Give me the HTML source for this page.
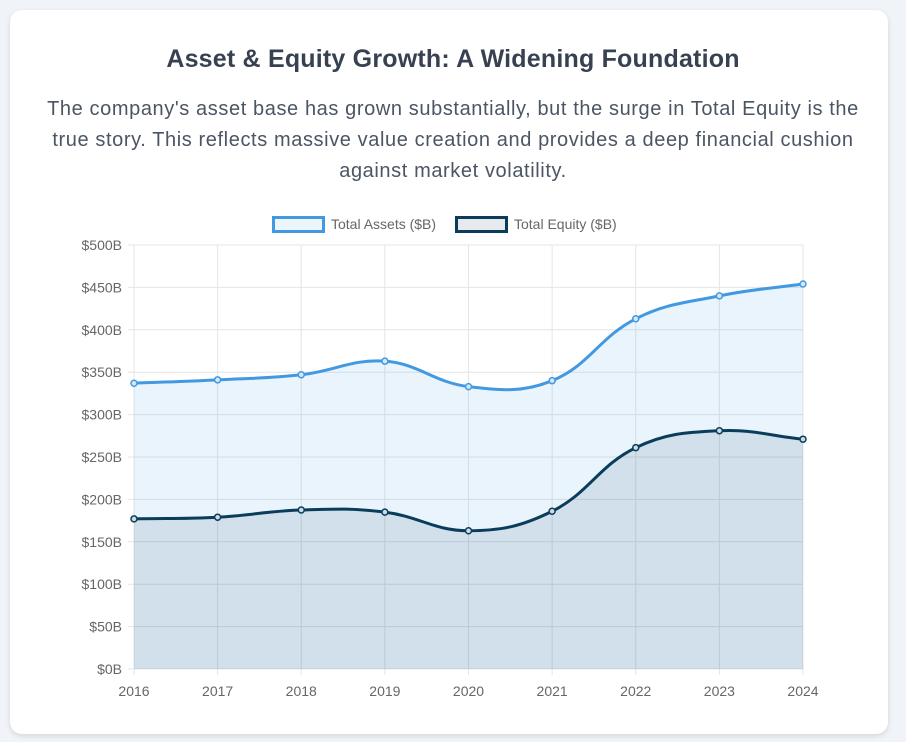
<!DOCTYPE html>
<html><head><meta charset="utf-8"><style>
body{margin:0;width:906px;height:742px;background:#f0f4f8;font-family:"Liberation Sans",sans-serif;overflow:hidden}
.card{position:absolute;left:10px;top:10px;width:878px;height:724px;background:#fff;border-radius:12px;box-shadow:0 2px 6px rgba(0,0,0,0.12)}
h1{position:absolute;left:0;width:906px;top:45px;margin:0;text-align:center;font-size:25px;letter-spacing:0.2px;font-weight:bold;color:#374151}
p{position:absolute;left:38px;width:830px;top:94px;margin:0;text-align:center;font-size:20px;letter-spacing:0.6px;line-height:31px;color:#4b5563}
svg{position:absolute;left:0;top:0}
</style></head><body>
<div class="card"></div>
<h1>Asset &amp; Equity Growth: A Widening Foundation</h1>
<p>The company's asset base has grown substantially, but the surge in Total Equity is the true story. This reflects massive value creation and provides a deep financial cushion against market volatility.</p>
<svg id="c" width="906" height="742"></svg>
<script>
const categories=["2016","2017","2018","2019","2020","2021","2022","2023","2024"];
const assets=[337,341,347,363,333,340,413,440,454];
const equity=[177,179,187.5,185,163,186,261,281,271];
const yTicks=[0,50,100,150,200,250,300,350,400,450,500];
const svg=document.getElementById('c');
const NS='http://www.w3.org/2000/svg';
const L=134,R=803,T=245,B=669;
const x=i=>L+i*(R-L)/(categories.length-1);
const y=v=>B-v*(B-T)/500;
function el(t,a,p){const e=document.createElementNS(NS,t);for(const k in a)e.setAttribute(k,a[k]);(p||svg).appendChild(e);return e;}
const grid=el('g',{});


yTicks.forEach(v=>{
 const ln=el('line',{x1:L-6,x2:R,y1:y(v),y2:y(v),stroke:'#e4e4e4','stroke-width':1},grid);
 
 
 const t=el('text',{x:L-12,y:y(v)+5,'text-anchor':'end','font-size':14,fill:'#666'});
 t.textContent='$'+v+'B';
 
 
});
categories.forEach((c,i)=>{
 const ln=el('line',{x1:x(i),x2:x(i),y1:T,y2:B+6,stroke:'#e4e4e4','stroke-width':1},grid);
 
 
 const t=el('text',{x:x(i),y:B+27,'text-anchor':'middle','font-size':14,fill:'#666'});
 t.textContent=c;
 
 
});
function curve(vals){
 const pts=vals.map((v,i)=>[x(i),y(v)]);const tension=0.4;
 let d='M'+pts[0][0]+','+pts[0][1];
 const cps=pts.map((p,i)=>{
  const pr=pts[Math.max(i-1,0)],nx=pts[Math.min(i+1,pts.length-1)];
  const d01=Math.hypot(p[0]-pr[0],p[1]-pr[1]),d12=Math.hypot(nx[0]-p[0],nx[1]-p[1]);
  let fa=d01/(d01+d12)||0,fb=d12/(d01+d12)||0;fa*=tension;fb*=tension;
  return {pv:[p[0]-fa*(nx[0]-pr[0]),p[1]-fa*(nx[1]-pr[1])],nx:[p[0]+fb*(nx[0]-pr[0]),p[1]+fb*(nx[1]-pr[1])]};
 });
 for(let i=1;i<pts.length;i++){d+=` C${cps[i-1].nx[0]},${cps[i-1].nx[1]} ${cps[i].pv[0]},${cps[i].pv[1]} ${pts[i][0]},${pts[i][1]}`;}
 return d;
}
function series(vals,fill,name){
 const d=curve(vals);
 const a=el('path',{d:d+` L${R},${B} L${L},${B} Z`,fill:fill});
 
 
 return d;
}
const da=series(assets,'rgba(66,153,225,0.11)','assets');
const de=series(equity,'rgba(10,61,92,0.11)','equity');
[[da,assets,'#4299e1','assets'],[de,equity,'#0a3d5c','equity']].forEach(([d,vals,c,n])=>{
 const p=el('path',{d:d,fill:'none',stroke:c,'stroke-width':3});
 
 
 vals.forEach((v,i)=>{
  const pt=el('circle',{cx:x(i),cy:y(v),r:3,fill:n=='assets'?'#d6e8f8':'#cfdbe3',stroke:c,'stroke-width':1.5});
  
  
 });
});
[[272,'#4299e1','#ecf4fc','Total Assets ($B)','legend-assets'],[455,'#0a3d5c','#e6eaed','Total Equity ($B)','legend-equity']].forEach(([lx,c,f,t,n])=>{
 const g=el('g',{});
 
 
 el('rect',{x:lx+1.5,y:217.5,width:50,height:14,fill:f,stroke:c,'stroke-width':3},g);
 const tx=el('text',{x:lx+59,y:229,'font-size':14,fill:'#666'},g);
 tx.textContent=t;
});
</script>
</body></html>
